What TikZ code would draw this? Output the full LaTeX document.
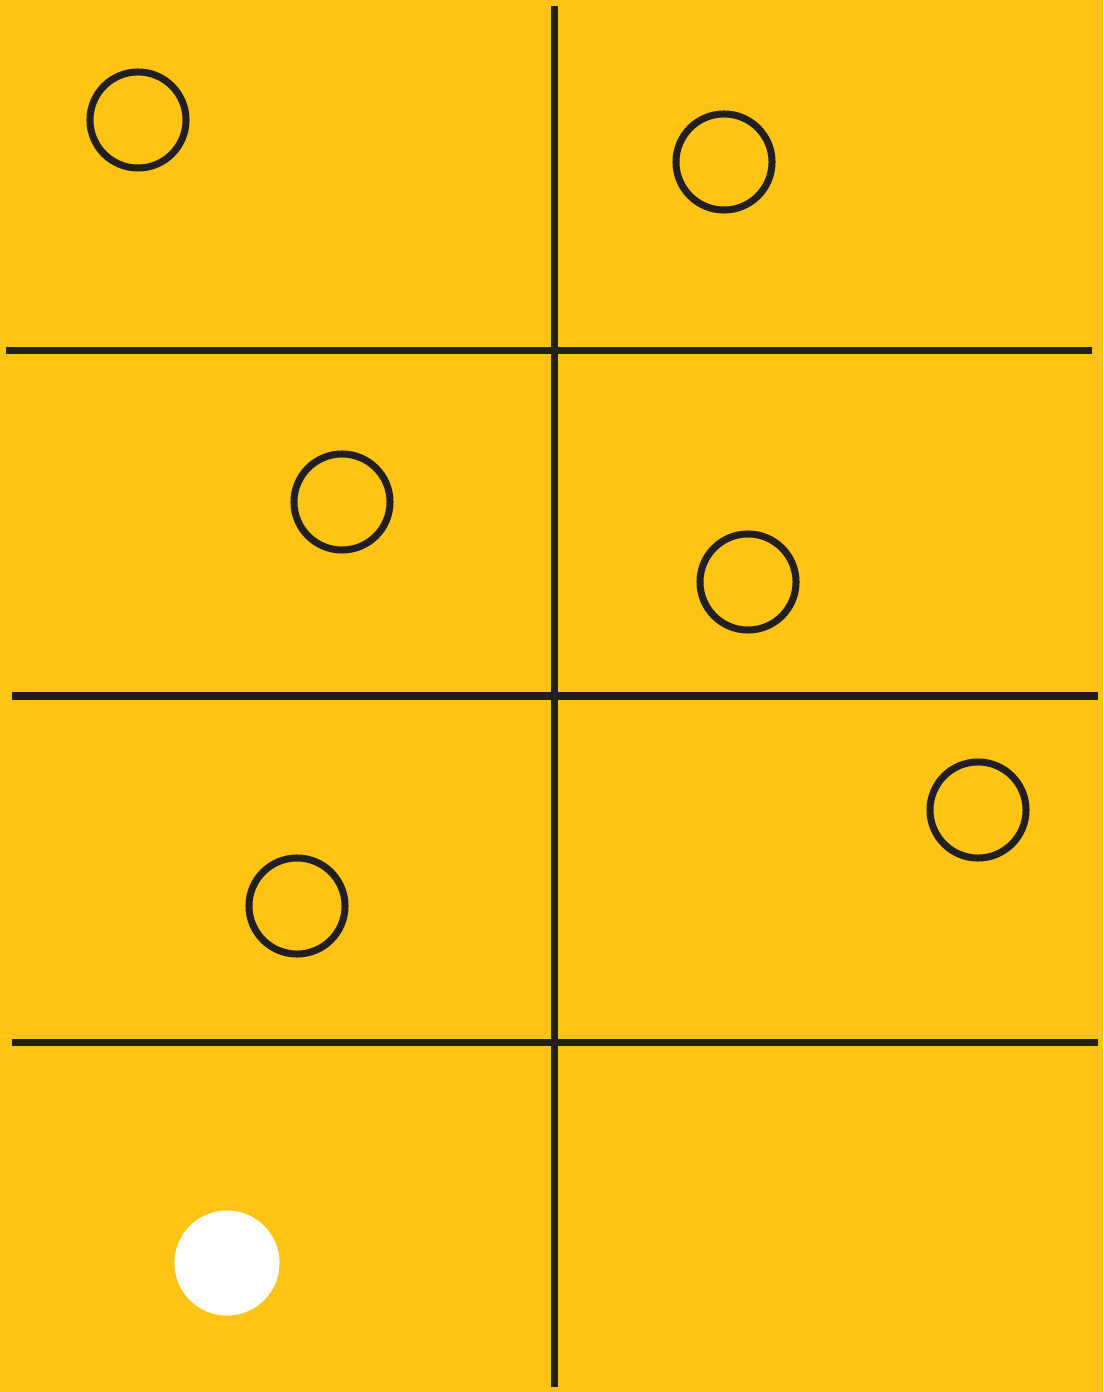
\documentclass[tikz,border=0pt]{standalone}
\usepackage{tikz}
\definecolor{boardyellow}{HTML}{FEC413}
\definecolor{inkdark}{HTML}{231F20}
\begin{document}
\begin{tikzpicture}[x=0.01cm,y=-0.01cm]
\fill[boardyellow] (0,0) rectangle (1103,1392);
\useasboundingbox (0,0) rectangle (1103,1392);
\draw[inkdark,line width=0.07cm] (554,6)--(554,1387);
\foreach \y/\a/\b in {351/6/1092,696/12/1098,1042/12/1098} {\draw[inkdark,line width=0.07cm] (\a,\y)--(\b,\y);}
\foreach \x/\y in {138/120,724/162,342/502,748/582,978/810,297/906} {\draw[inkdark,line width=0.07cm] (\x,\y) circle (0.48cm);}
\fill[white] (227,1263) circle (0.525cm);
\end{tikzpicture}
\end{document}
